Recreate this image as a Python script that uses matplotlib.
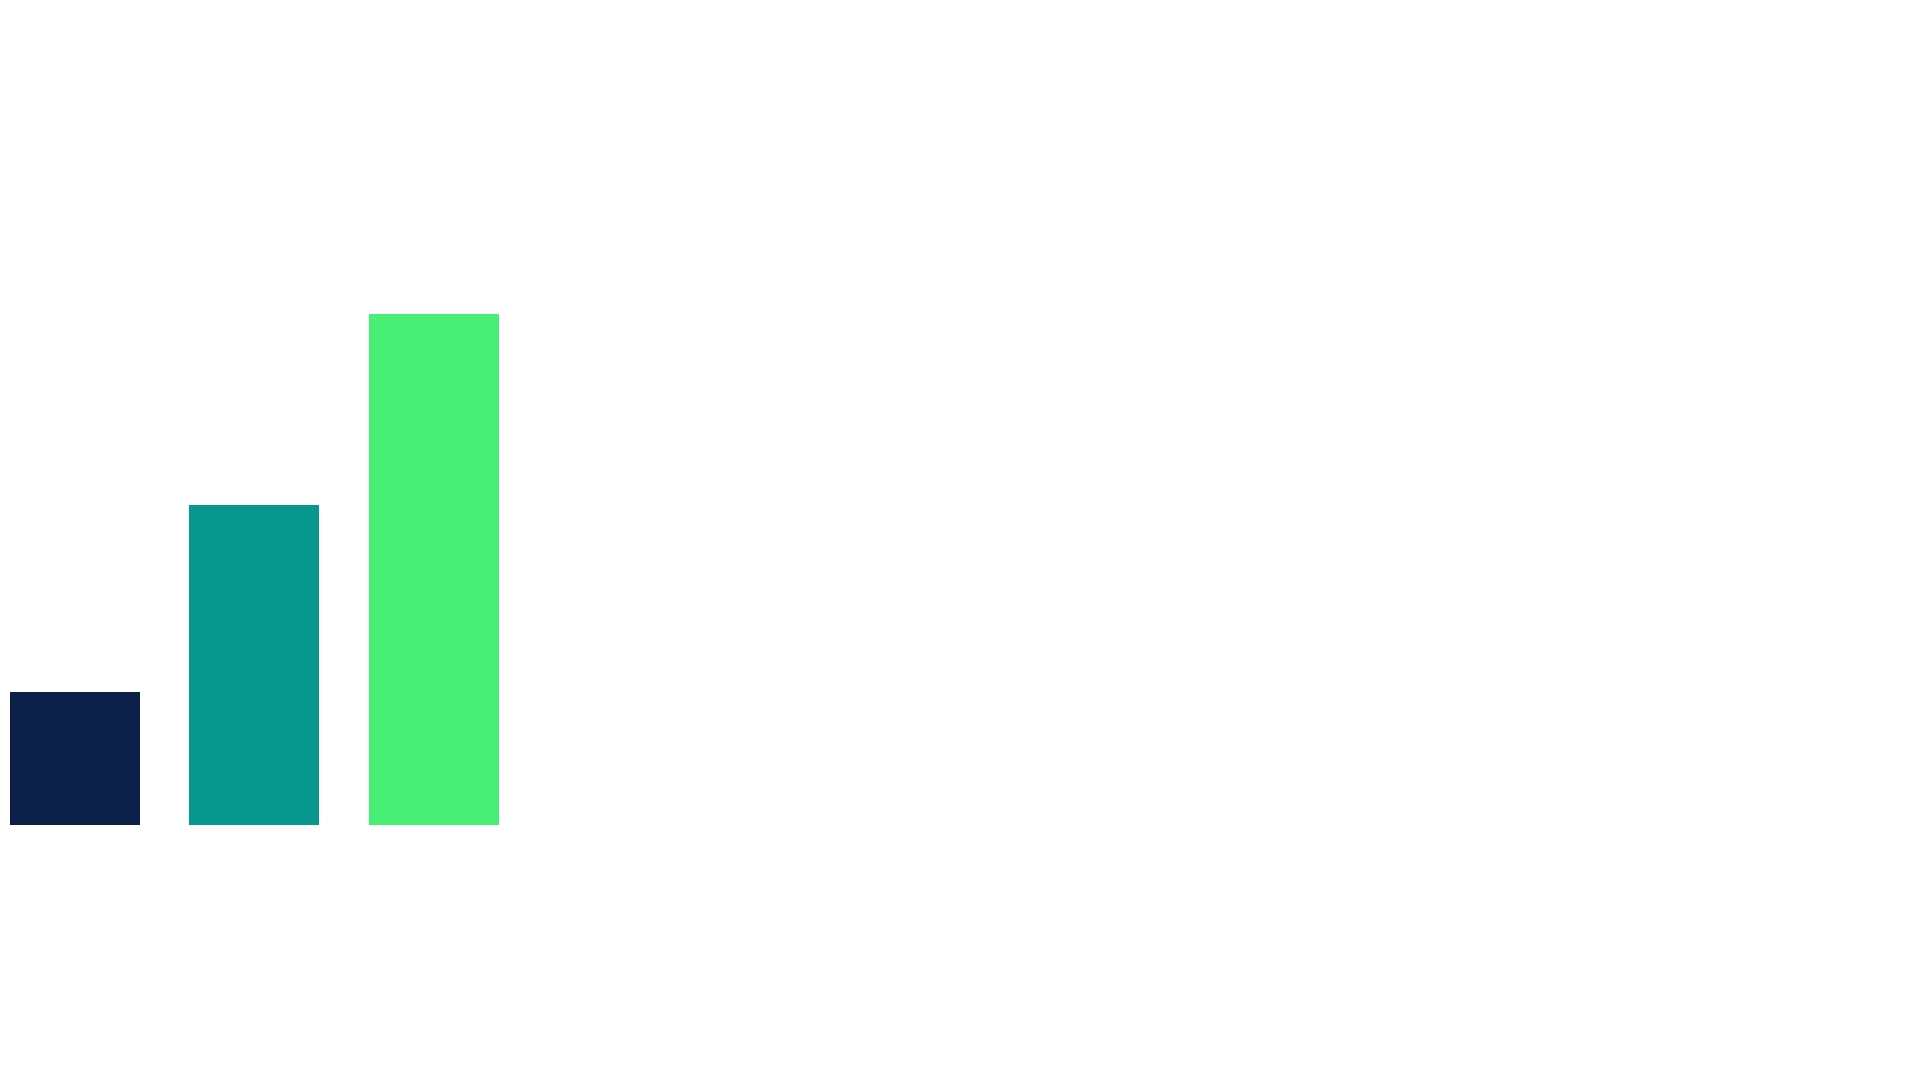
import matplotlib
matplotlib.use("Agg")
import matplotlib.pyplot as plt

# bar values (relative heights)
categories = ["A", "B", "C"]
values = [26, 62.5, 100]
colors = ["#0B1F49", "#079990", "#49EE76"]

fig = plt.figure(figsize=(19.2, 10.8), dpi=100)
ax = fig.add_axes([0, 0, 1, 1])

x = list(range(len(categories)))
ax.bar(x, values, width=0.725, color=colors, linewidth=0)

# place the bars where they sit in the reference
ax.set_xlim(-0.418, 10.29)
ax.set_ylim(-49.9, 161.4)
ax.axis("off")

fig.savefig("out.png", dpi=100, facecolor="white")
